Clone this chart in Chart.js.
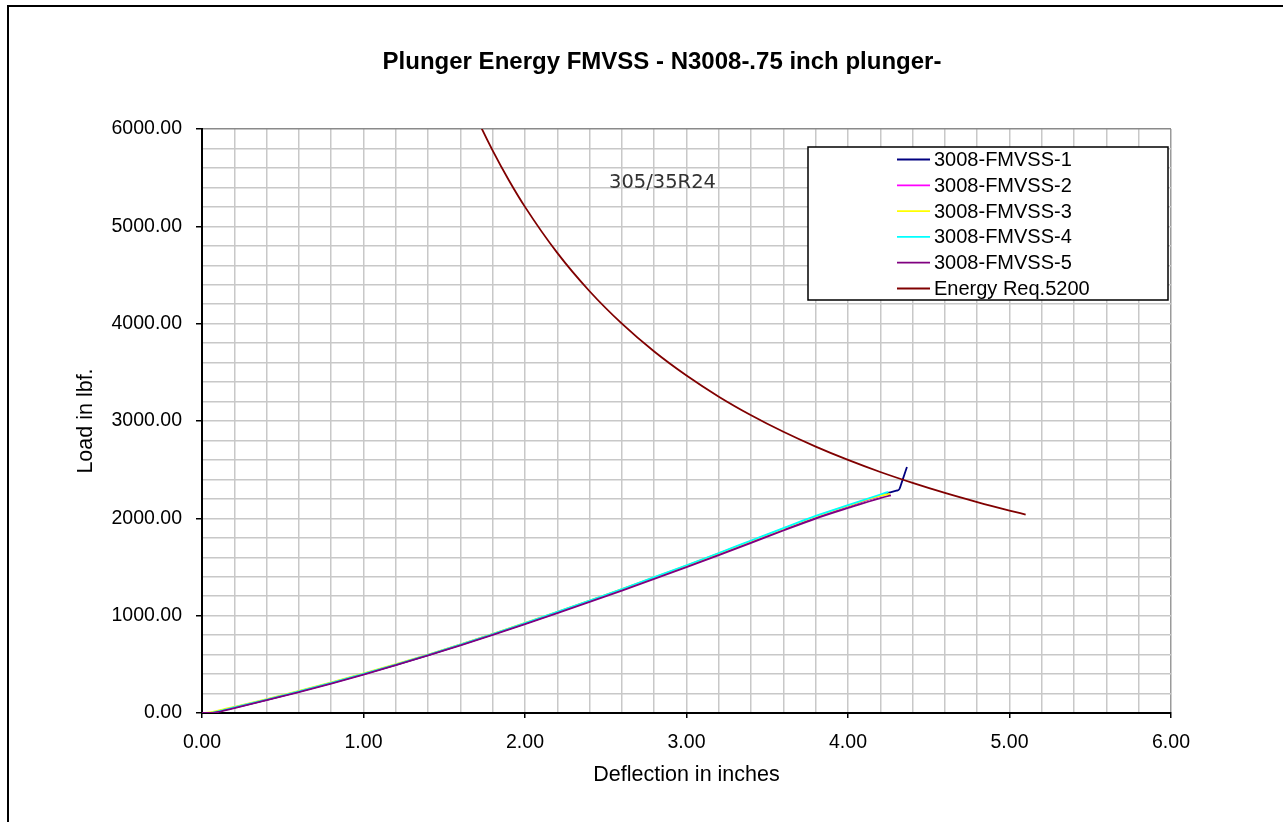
<!DOCTYPE html>
<html>
<head>
<meta charset="utf-8">
<script src="https://cdn.jsdelivr.net/npm/chart.js@4.4.1/dist/chart.umd.min.js"></script>
<style>
  html, body { margin: 0; padding: 0; background: #fff; }
  #wrap { width: 1283px; height: 822px; }
</style>
</head>
<body>
<div id="wrap"><canvas id="c" width="1283" height="822"></canvas></div>
<script>
// Plunger test curves: deflection (in) vs load (lbf)
const run1X = [0.00, 0.05, 0.10, 0.20, 0.40, 0.60, 0.80, 1.00, 1.20, 1.40, 1.60, 1.80, 2.00, 2.20, 2.40, 2.60, 2.80, 3.00, 3.20, 3.40, 3.60, 3.80, 4.00, 4.20, 4.254, 4.30, 4.318, 4.335, 4.365];
const run1Y = [0, 0, 15, 55, 135, 219, 307, 399, 495, 595, 699, 807, 919, 1033, 1149, 1267, 1387, 1509, 1634, 1761, 1889, 2013, 2124, 2235, 2264, 2284, 2300, 2380, 2527];

const run2X = [0.00, 0.05, 0.10, 0.20, 0.40, 0.60, 0.80, 1.00, 1.20, 1.40, 1.60, 1.80, 2.00, 2.20, 2.40, 2.60, 2.80, 3.00, 3.20, 3.40, 3.60, 3.80, 4.00, 4.20, 4.24];
const run2Y = [0, 0, 17, 58, 138, 222, 310, 402, 498, 598, 702, 810, 922, 1036, 1152, 1270, 1390, 1512, 1637, 1764, 1892, 2016, 2127, 2233, 2254];

const run3X = [0.00, 0.05, 0.10, 0.20, 0.40, 0.60, 0.80, 1.00, 1.20, 1.40, 1.60, 1.80, 2.00, 2.20, 2.40, 2.60, 2.80, 3.00, 3.20, 3.40, 3.60, 3.80, 4.00, 4.20, 4.26];
const run3Y = [0, 6, 24, 64, 143, 227, 314, 406, 501, 601, 705, 813, 925, 1039, 1155, 1273, 1393, 1515, 1640, 1767, 1895, 2019, 2130, 2233, 2250];

const run4X = [0.00, 0.05, 0.10, 0.20, 0.40, 0.60, 0.80, 1.00, 1.20, 1.40, 1.60, 1.80, 2.00, 2.20, 2.40, 2.60, 2.80, 3.00, 3.20, 3.40, 3.60, 3.80, 4.00, 4.20, 4.25];
const run4Y = [0, 0, 16, 57, 138, 222, 310, 402, 498, 598, 702, 811, 923, 1038, 1155, 1274, 1395, 1518, 1644, 1772, 1900, 2025, 2136, 2245, 2272];

const run5X = [0.00, 0.05, 0.10, 0.20, 0.40, 0.60, 0.80, 1.00, 1.20, 1.40, 1.60, 1.80, 2.00, 2.20, 2.40, 2.60, 2.80, 3.00, 3.20, 3.40, 3.60, 3.80, 4.00, 4.20, 4.266];
const run5Y = [0, 0, 12, 51, 131, 215, 303, 395, 491, 591, 695, 802, 913, 1026, 1141, 1258, 1377, 1498, 1622, 1748, 1875, 1998, 2106, 2208, 2236];

// Required-energy curve (5200 in-lbf)
const energyX = [1.60, 1.70, 1.80, 1.90, 2.00, 2.20, 2.40, 2.60, 2.80, 3.00, 3.20, 3.40, 3.60, 3.80, 4.00, 4.20, 4.40, 4.60, 4.80, 5.00, 5.10];
const energyY = [6500, 6118, 5778, 5474, 5200, 4727, 4333, 4000, 3714, 3467, 3250, 3059, 2889, 2737, 2600, 2476, 2364, 2261, 2167, 2080, 2039];

const seriesNames = ['3008-FMVSS-1', '3008-FMVSS-2', '3008-FMVSS-3', '3008-FMVSS-4', '3008-FMVSS-5', 'Energy Req.5200'];
const seriesColors = ['#000080', '#FF00FF', '#FFFF00', '#00FFFF', '#800080', '#800000'];

const chartTitle = 'Plunger Energy FMVSS - N3008-.75 inch plunger-';
const xTitle = 'Deflection in inches';
const yTitle = 'Load in lbf.';
const tireNote = '305/35R24';
const tireNoteAt = { x: 2.52, y: 5445 };

const xMin = 0, xMax = 6, xMajor = 1, xMinor = 0.2;
const yMin = 0, yMax = 6000, yMajor = 1000, yMinor = 200;

const FONT = "'Liberation Sans', Arial, sans-serif";

function pts(xs, ys) { return xs.map((x, i) => ({ x: x, y: ys[i] })); }
function isMajor(v, step) { const r = v / step; return Math.abs(r - Math.round(r)) < 1e-6; }

const xsAll = [run1X, run2X, run3X, run4X, run5X, energyX];
const ysAll = [run1Y, run2Y, run3Y, run4Y, run5Y, energyY];

const datasets = seriesNames.map((name, i) => ({
  label: name,
  data: pts(xsAll[i], ysAll[i]),
  borderColor: seriesColors[i],
  backgroundColor: seriesColors[i],
  borderWidth: 1.8,
  pointRadius: 0,
  fill: false,
  cubicInterpolationMode: 'monotone',
  order: -i
}));

// outer frame and heading
const framePlugin = {
  id: 'frame',
  beforeDraw(chart) {
    const ctx = chart.ctx;
    ctx.save();
    ctx.fillStyle = '#fff';
    ctx.fillRect(0, 0, chart.width, chart.height);
    ctx.strokeStyle = '#000';
    ctx.lineWidth = 2;
    ctx.strokeRect(8, 6, chart.width + 50, chart.height + 50);
    ctx.fillStyle = '#000';
    ctx.font = 'bold 24px ' + FONT;
    ctx.textAlign = 'center';
    ctx.textBaseline = 'middle';
    ctx.fillText(chartTitle, 662, 62);
    ctx.restore();
  }
};

// note text and boxed legend inside the plot area
const overlayPlugin = {
  id: 'overlay',
  afterDatasetsDraw(chart) {
    const ctx = chart.ctx;
    const area = chart.chartArea;
    const xs = chart.scales.x, ys = chart.scales.y;
    ctx.save();
    ctx.fillStyle = '#333';
    ctx.font = "19.5px 'DejaVu Sans', sans-serif";
    ctx.textAlign = 'left';
    ctx.textBaseline = 'middle';
    ctx.fillText(tireNote, xs.getPixelForValue(tireNoteAt.x), ys.getPixelForValue(tireNoteAt.y));

    const boxR = area.right - 3, boxT = area.top + 18;
    const boxW = 360, boxH = 153;
    const boxL = boxR - boxW;
    ctx.fillStyle = '#fff';
    ctx.fillRect(boxL, boxT, boxW, boxH);
    ctx.strokeStyle = '#000';
    ctx.lineWidth = 1.5;
    ctx.strokeRect(boxL, boxT, boxW, boxH);
    ctx.font = '20px ' + FONT;
    chart.data.datasets.forEach((ds, i) => {
      const yy = boxT + 12.5 + i * 25.8;
      ctx.strokeStyle = ds.borderColor;
      ctx.lineWidth = 1.8;
      ctx.beginPath();
      ctx.moveTo(boxL + 89, yy);
      ctx.lineTo(boxL + 122, yy);
      ctx.stroke();
      ctx.fillStyle = '#000';
      ctx.fillText(ds.label, boxL + 126, yy + 1);
    });
    ctx.restore();
  }
};

new Chart(document.getElementById('c'), {
  type: 'line',
  data: { datasets: datasets },
  options: {
    responsive: false,
    animation: false,
    layout: { padding: { left: 0, top: 129, right: 112, bottom: 0 } },
    plugins: { legend: { display: false }, title: { display: false }, tooltip: { enabled: false } },
    scales: {
      x: {
        type: 'linear',
        min: xMin, max: xMax,
        afterFit(s) { s.height = 109; },
        ticks: {
          stepSize: xMinor,
          autoSkip: false,
          maxRotation: 0,
          padding: 13,
          color: '#000',
          font: { family: FONT, size: 19.5 },
          callback: v => isMajor(v, xMajor) ? v.toFixed(2) : ''
        },
        grid: {
          color: c => (c.tick && Math.abs(c.tick.value - xMax) < 1e-6) ? '#9a9a9a' : '#c8c8c8',
          lineWidth: 1.5,
          tickLength: 5,
          tickWidth: 1.5,
          tickColor: c => (c.tick && isMajor(c.tick.value, xMajor)) ? '#000' : 'rgba(0,0,0,0)'
        },
        border: { display: true, color: '#000', width: 2 },
        title: {
          display: true, text: xTitle, color: '#000',
          font: { family: FONT, size: 21.5 },
          padding: { top: 0, bottom: 34 }
        }
      },
      y: {
        type: 'linear',
        min: yMin, max: yMax,
        afterFit(s) { s.width = 202; },
        ticks: {
          stepSize: yMinor,
          autoSkip: false,
          padding: 14,
          color: '#000',
          font: { family: FONT, size: 19.5 },
          callback: v => isMajor(v, yMajor) ? v.toFixed(2) : ''
        },
        grid: {
          color: c => (c.tick && Math.abs(c.tick.value - yMax) < 1e-6) ? '#8a8a8a' : '#c8c8c8',
          lineWidth: 1.5,
          tickLength: 6,
          tickWidth: 1.5,
          tickColor: c => (c.tick && isMajor(c.tick.value, yMajor)) ? '#000' : 'rgba(0,0,0,0)'
        },
        border: { display: true, color: '#000', width: 2 },
        title: {
          display: true, text: yTitle, color: '#000',
          font: { family: FONT, size: 21.5 },
          padding: { top: 73, bottom: 0 }
        }
      }
    }
  },
  plugins: [framePlugin, overlayPlugin]
});
</script>
</body>
</html>
